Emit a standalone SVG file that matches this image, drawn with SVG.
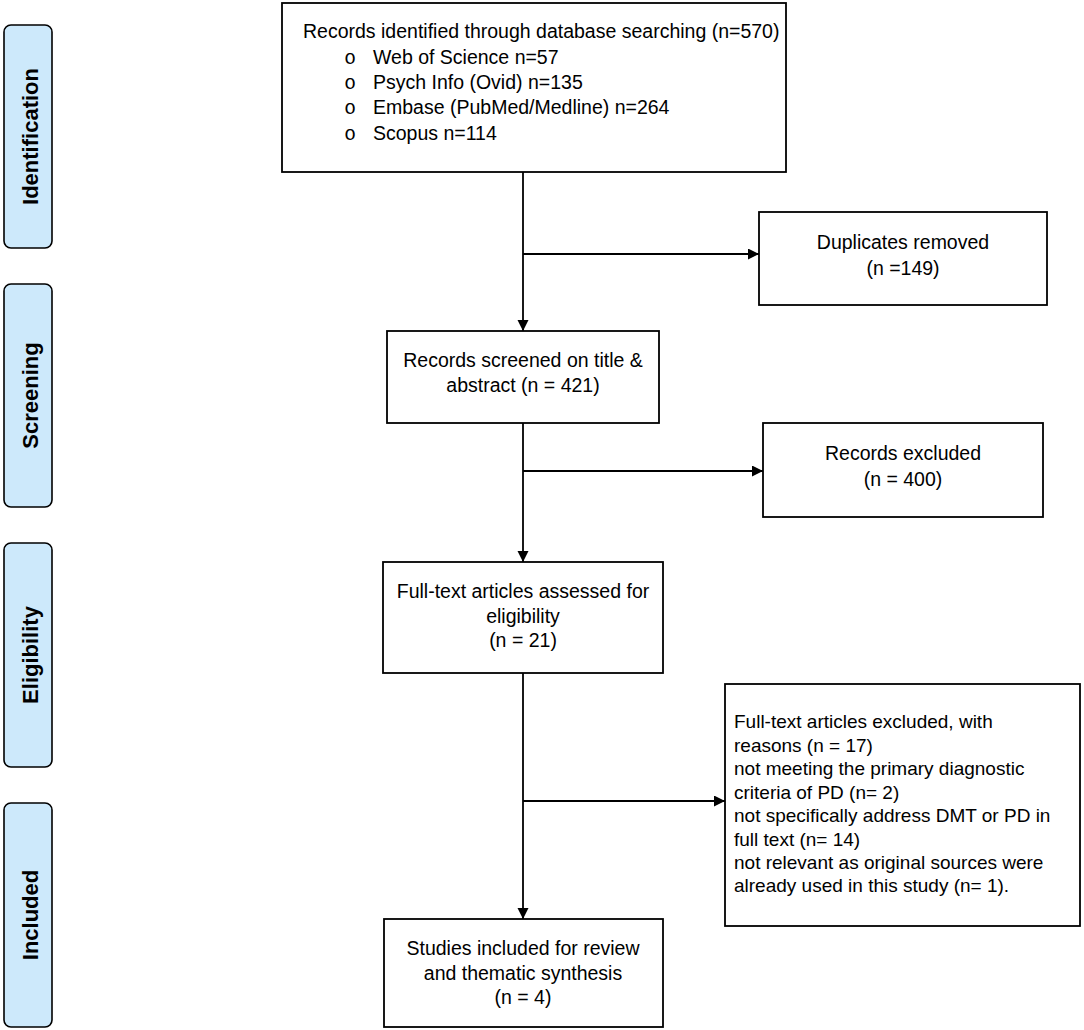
<svg xmlns="http://www.w3.org/2000/svg" width="1084" height="1030" viewBox="0 0 1084 1030">
<style>
.box{fill:#fff;stroke:#000;stroke-width:1.8}
.side{fill:#cde9fb;stroke:#000;stroke-width:1.6}
.t{font-family:"Liberation Sans",Arial,sans-serif;font-size:19.5px;fill:#000}
.s{font-size:19px}
.c{text-anchor:middle}
.lab{font-family:"Liberation Sans",Arial,sans-serif;font-size:22px;font-weight:bold;text-anchor:middle;fill:#000}
.bul{font-family:"Liberation Mono","Courier New",monospace;font-size:19.5px;text-anchor:middle;fill:#000}
.ln{stroke:#000;stroke-width:1.8;fill:none}
</style>
<defs>
<marker id="ah" markerUnits="userSpaceOnUse" markerWidth="12" markerHeight="12" refX="11" refY="5.5" orient="auto">
<path d="M0,0 L11,5.5 L0,11 z" fill="#000"/>
</marker>
</defs>
<rect width="1084" height="1030" fill="#fff"/>

<g id="stage-identification">
<rect class="side" x="4" y="25" width="48" height="223" rx="7"/>
<text class="lab" transform="translate(38,136.5) rotate(-90)">Identification</text>
</g>
<g id="stage-screening">
<rect class="side" x="4" y="284" width="48" height="223" rx="7"/>
<text class="lab" transform="translate(38,395.5) rotate(-90)">Screening</text>
</g>
<g id="stage-eligibility">
<rect class="side" x="4" y="543" width="48" height="224" rx="7"/>
<text class="lab" transform="translate(38,655) rotate(-90)">Eligibility</text>
</g>
<g id="stage-included">
<rect class="side" x="4" y="803" width="48" height="224" rx="7"/>
<text class="lab" transform="translate(38,915) rotate(-90)">Included</text>
</g>

<g id="connectors">
<line class="ln" x1="523" y1="172" x2="523" y2="331" marker-end="url(#ah)"/>
<line class="ln" x1="523" y1="254" x2="759" y2="254" marker-end="url(#ah)"/>
<line class="ln" x1="523" y1="423" x2="523" y2="562" marker-end="url(#ah)"/>
<line class="ln" x1="523" y1="471" x2="763" y2="471" marker-end="url(#ah)"/>
<line class="ln" x1="523" y1="673" x2="523" y2="919" marker-end="url(#ah)"/>
<line class="ln" x1="523" y1="801" x2="725" y2="801" marker-end="url(#ah)"/>
</g>

<g id="records-identified">
<rect class="box" x="282" y="3" width="504" height="169"/>
<text class="t" x="303" y="38">Records identified through database searching (n=570)</text>
<text class="bul" x="350" y="64">o</text>
<text class="t" x="373" y="64">Web of Science n=57</text>
<text class="bul" x="350" y="89">o</text>
<text class="t" x="373" y="89">Psych Info (Ovid) n=135</text>
<text class="bul" x="350" y="114">o</text>
<text class="t" x="373" y="114">Embase (PubMed/Medline) n=264</text>
<text class="bul" x="350" y="140">o</text>
<text class="t" x="373" y="140">Scopus n=114</text>
</g>

<g id="duplicates-removed">
<rect class="box" x="759" y="212" width="288" height="93"/>
<text class="t c" x="903" y="249">Duplicates removed</text>
<text class="t c" x="903" y="275">(n =149)</text>
</g>

<g id="records-screened">
<rect class="box" x="387" y="331" width="272" height="92"/>
<text class="t c" x="523" y="367">Records screened on title &amp;</text>
<text class="t c" x="523" y="392">abstract (n = 421)</text>
</g>

<g id="records-excluded">
<rect class="box" x="763" y="423" width="280" height="94"/>
<text class="t c" x="903" y="460">Records excluded</text>
<text class="t c" x="903" y="486">(n = 400)</text>
</g>

<g id="full-text-assessed">
<rect class="box" x="383" y="562" width="280" height="111"/>
<text class="t c" x="523" y="598">Full-text articles assessed for</text>
<text class="t c" x="523" y="623">eligibility</text>
<text class="t c" x="523" y="647">(n = 21)</text>
</g>

<g id="full-text-excluded">
<rect class="box" x="725" y="684" width="355" height="242"/>
<text class="t s" x="734" y="728">Full-text articles excluded, with</text>
<text class="t s" x="734" y="752">reasons (n = 17)</text>
<text class="t s" x="734" y="775">not meeting the primary diagnostic</text>
<text class="t s" x="734" y="799">criteria of PD (n= 2)</text>
<text class="t s" x="734" y="822">not specifically address DMT or PD in</text>
<text class="t s" x="734" y="846">full text (n= 14)</text>
<text class="t s" x="734" y="869">not relevant as original sources were</text>
<text class="t s" x="734" y="892">already used in this study (n= 1).</text>
</g>

<g id="studies-included">
<rect class="box" x="384" y="919" width="279" height="108"/>
<text class="t c" x="523" y="955">Studies included for review</text>
<text class="t c" x="523" y="980">and thematic synthesis</text>
<text class="t c" x="523" y="1004">(n = 4)</text>
</g>
</svg>
